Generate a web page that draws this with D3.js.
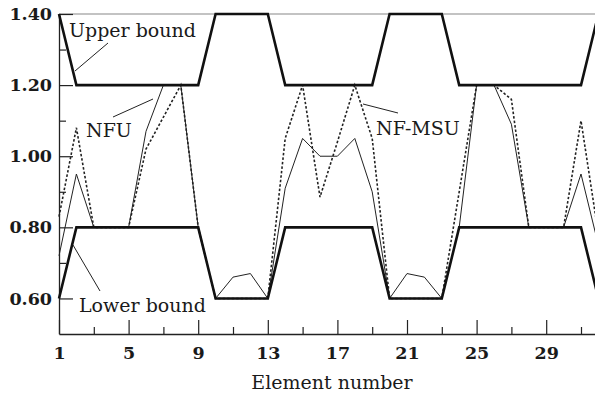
<!DOCTYPE html>
<html>
<head>
<meta charset="utf-8">
<script src="https://cdn.jsdelivr.net/npm/d3@7"></script>
<style>
  body { margin: 0; background: #fff; }
  svg { display: block; }
  text { font-family: "DejaVu Serif", serif; fill: #1a1a1a; }
</style>
</head>
<body>
<svg id="chart" width="595" height="395"></svg>
<script>
// element numbers along the x axis
var elements = [1, 2, 3, 4, 5, 6, 7, 8, 9, 10, 11, 12, 13, 14, 15, 16,
                17, 18, 19, 20, 21, 22, 23, 24, 25, 26, 27, 28, 29, 30, 31, 32];

var upperBound = [1.40, 1.20, 1.20, 1.20, 1.20, 1.20, 1.20, 1.20, 1.20, 1.40, 1.40, 1.40, 1.40, 1.20, 1.20, 1.20,
                  1.20, 1.20, 1.20, 1.40, 1.40, 1.40, 1.40, 1.20, 1.20, 1.20, 1.20, 1.20, 1.20, 1.20, 1.20, 1.40];
var lowerBound = [0.60, 0.80, 0.80, 0.80, 0.80, 0.80, 0.80, 0.80, 0.80, 0.60, 0.60, 0.60, 0.60, 0.80, 0.80, 0.80,
                  0.80, 0.80, 0.80, 0.60, 0.60, 0.60, 0.60, 0.80, 0.80, 0.80, 0.80, 0.80, 0.80, 0.80, 0.80, 0.60];
var nfu        = [0.72, 0.95, 0.80, 0.80, 0.80, 1.07, 1.20, 1.20, 0.80, 0.60, 0.66, 0.67, 0.60, 0.91, 1.05, 1.00,
                  1.00, 1.05, 0.90, 0.60, 0.67, 0.66, 0.60, 0.80, 1.20, 1.20, 1.09, 0.80, 0.80, 0.80, 0.95, 0.75];
var nfMsu      = [0.83, 1.08, 0.80, 0.80, 0.80, 1.02, 1.11, 1.20, 0.80, 0.60, 0.60, 0.60, 0.60, 1.05, 1.20, 0.885,
                  1.04, 1.20, 1.05, 0.60, 0.60, 0.60, 0.60, 0.90, 1.20, 1.20, 1.16, 0.80, 0.80, 0.80, 1.10, 0.78];

var xMajor = [1, 5, 9, 13, 17, 21, 25, 29];
var xMinor = [3, 7, 11, 15, 19, 23, 27, 31];
var yMajor = [0.6, 0.8, 1.0, 1.2, 1.4];
var yMinor = [0.7, 0.9, 1.1, 1.3];

var svg = d3.select("#chart");

var x = d3.scaleLinear().domain([1, 32]).range([59, 598.4]);
var y = d3.scaleLinear().domain([0.5, 1.4]).range([334, 14]);

// top frame line
svg.append("line")
    .attr("x1", x(1)).attr("x2", 595)
    .attr("y1", y(1.4)).attr("y2", y(1.4))
    .attr("stroke", "#888").attr("stroke-width", 1.2);

// axes
svg.append("g")
    .attr("transform", "translate(0," + y(0.5) + ")")
    .call(d3.axisBottom(x).tickValues(xMajor).tickSize(-14).tickPadding(13).tickSizeOuter(0));
svg.append("g")
    .attr("transform", "translate(0," + y(0.5) + ")")
    .call(d3.axisBottom(x).tickValues(xMinor).tickSize(-7).tickFormat("").tickSizeOuter(0))
    .select(".domain").remove();

svg.append("g")
    .attr("transform", "translate(" + x(1) + ",0)")
    .call(d3.axisLeft(y).tickValues(yMajor).tickSize(-14).tickPadding(7).tickSizeOuter(0)
        .tickFormat(d3.format(".2f")));
svg.append("g")
    .attr("transform", "translate(" + x(1) + ",0)")
    .call(d3.axisLeft(y).tickValues(yMinor).tickSize(-7).tickFormat("").tickSizeOuter(0))
    .select(".domain").remove();

svg.selectAll(".domain").attr("stroke", "#222").attr("stroke-width", 1.3);
svg.selectAll(".tick line").attr("stroke", "#222").attr("stroke-width", 1.2);
svg.selectAll(".tick text")
    .attr("font-family", "DejaVu Serif")
    .attr("font-size", 17.5)
    .attr("font-weight", "bold")
    .attr("fill", "#1a1a1a");

// series
var line = function(values) {
  return d3.line()
    .x(function(d, i) { return x(elements[i]); })
    .y(function(d) { return y(d); })(values);
};

svg.append("path").attr("d", line(nfu))
    .attr("fill", "none").attr("stroke", "#222").attr("stroke-width", 1);
svg.append("path").attr("d", line(nfMsu))
    .attr("fill", "none").attr("stroke", "#222").attr("stroke-width", 1.6)
    .attr("stroke-dasharray", "2.5,2");
svg.append("path").attr("d", line(upperBound))
    .attr("fill", "none").attr("stroke", "#111").attr("stroke-width", 2.6);
svg.append("path").attr("d", line(lowerBound))
    .attr("fill", "none").attr("stroke", "#111").attr("stroke-width", 2.6);

// annotations with leader lines
var notes = [
  { text: "Upper bound", tx: 69, ty: 37, x1: 108, y1: 43, x2: 75, y2: 71 },
  { text: "NFU", tx: 86, ty: 137, x1: 113, y1: 117, x2: 153, y2: 99 },
  { text: "NF-MSU", tx: 376, ty: 135, x1: 363, y1: 104, x2: 398, y2: 113 },
  { text: "Lower bound", tx: 79, ty: 312, x1: 73, y1: 245, x2: 100, y2: 291 }
];
notes.forEach(function(n) {
  svg.append("line")
      .attr("x1", n.x1).attr("y1", n.y1).attr("x2", n.x2).attr("y2", n.y2)
      .attr("stroke", "#222").attr("stroke-width", 1);
  svg.append("text")
      .attr("x", n.tx).attr("y", n.ty)
      .attr("font-size", 19)
      .text(n.text);
});

// x axis title
svg.append("text")
    .attr("x", 332).attr("y", 389)
    .attr("text-anchor", "middle")
    .attr("font-size", 19)
    .text("Element number");
</script>
</body>
</html>
